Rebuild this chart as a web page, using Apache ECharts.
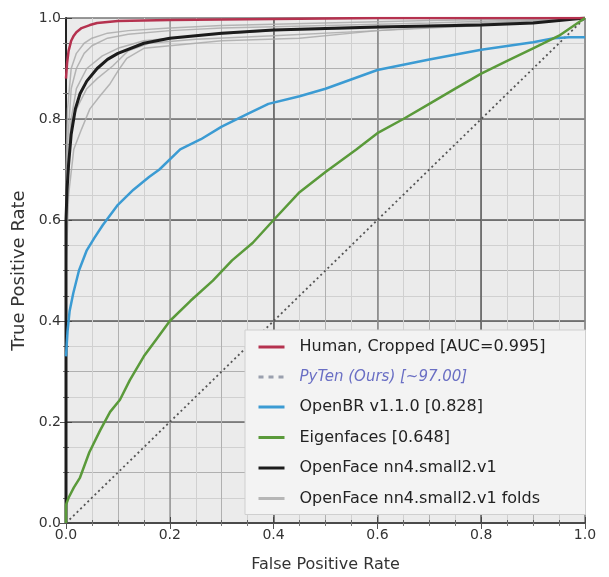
<!DOCTYPE html>
<html>
<head>
<meta charset="utf-8">
<script src="https://cdn.jsdelivr.net/npm/echarts@6/dist/echarts.min.js"></script>
<style>
  html, body { margin: 0; padding: 0; background: #fff; }
  #chart { width: 609px; height: 577px; }
</style>
</head>
<body>
<div id="chart"></div>
<script>
// ROC curves (false positive rate -> true positive rate)
var humanX = [0, 0.002, 0.005, 0.01, 0.015, 0.02, 0.03, 0.046, 0.06, 0.1, 0.2, 0.4, 0.6, 1.0]
var humanY = [0.88, 0.91, 0.935, 0.955, 0.965, 0.972, 0.98, 0.986, 0.99, 0.994, 0.996, 0.998, 1.0, 1.0]

var openbrX = [0, 0.003, 0.007, 0.014, 0.025, 0.04, 0.055, 0.071, 0.1, 0.13, 0.16, 0.18, 0.22, 0.26, 0.3, 0.35, 0.39, 0.45, 0.5, 0.6, 0.7, 0.8, 0.9, 0.94, 0.97, 1.0]
var openbrY = [0.33, 0.38, 0.42, 0.455, 0.5, 0.54, 0.565, 0.59, 0.63, 0.66, 0.685, 0.7, 0.74, 0.76, 0.785, 0.81, 0.83, 0.845, 0.86, 0.897, 0.918, 0.937, 0.952, 0.96, 0.962, 0.962]

var eigenX = [0, 0, 0.005, 0.015, 0.027, 0.045, 0.066, 0.085, 0.104, 0.123, 0.15, 0.175, 0.2, 0.24, 0.283, 0.32, 0.36, 0.4, 0.45, 0.5, 0.56, 0.6, 0.65, 0.7, 0.75, 0.8, 0.85, 0.9, 0.95, 1.0]
var eigenY = [0, 0.036, 0.05, 0.07, 0.09, 0.14, 0.184, 0.22, 0.244, 0.283, 0.33, 0.365, 0.4, 0.44, 0.48, 0.52, 0.555, 0.6, 0.655, 0.695, 0.74, 0.772, 0.8, 0.83, 0.86, 0.89, 0.915, 0.94, 0.965, 1.0]

var openfaceX = [0, 0, 0.002, 0.005, 0.01, 0.018, 0.027, 0.04, 0.06, 0.08, 0.1, 0.15, 0.2, 0.3, 0.4, 0.5, 0.6, 0.7, 0.8, 0.9, 1.0]
var openfaceY = [0, 0.6, 0.66, 0.71, 0.77, 0.82, 0.85, 0.875, 0.9, 0.918, 0.93, 0.95, 0.96, 0.97, 0.976, 0.979, 0.982, 0.984, 0.986, 0.99, 1.0]

// individual folds (grey)
var foldAX = [0, 0, 0.003, 0.01, 0.02, 0.035, 0.05, 0.08, 0.12, 0.2, 0.3, 0.5, 0.7, 1.0]
var foldAY = [0, 0.7, 0.82, 0.9, 0.93, 0.95, 0.96, 0.97, 0.975, 0.98, 0.985, 0.99, 0.995, 1.0]
var foldBX = [0, 0, 0.003, 0.01, 0.02, 0.035, 0.05, 0.08, 0.12, 0.2, 0.3, 0.5, 0.7, 1.0]
var foldBY = [0, 0.6, 0.75, 0.86, 0.9, 0.93, 0.945, 0.96, 0.968, 0.975, 0.98, 0.985, 0.99, 1.0]
var foldCX = [0, 0, 0.004, 0.012, 0.025, 0.04, 0.06, 0.09, 0.12, 0.16, 0.25, 0.4, 0.6, 0.8, 1.0]
var foldCY = [0, 0.55, 0.7, 0.8, 0.83, 0.86, 0.88, 0.905, 0.935, 0.95, 0.958, 0.965, 0.975, 0.988, 1.0]
var foldDX = [0, 0, 0.005, 0.015, 0.03, 0.046, 0.065, 0.085, 0.1, 0.117, 0.15, 0.2, 0.3, 0.45, 0.6, 0.8, 1.0]
var foldDY = [0, 0.5, 0.65, 0.74, 0.78, 0.82, 0.845, 0.87, 0.895, 0.92, 0.94, 0.945, 0.955, 0.96, 0.975, 0.985, 1.0]
var foldEX = [0, 0, 0.004, 0.01, 0.02, 0.04, 0.07, 0.1, 0.15, 0.25, 0.4, 0.6, 0.8, 1.0]
var foldEY = [0, 0.6, 0.72, 0.8, 0.86, 0.9, 0.925, 0.94, 0.955, 0.965, 0.975, 0.98, 0.99, 1.0]

var chanceX = [0, 1]
var chanceY = [0, 1]

var tickLabels = ['0.0', '0.2', '0.4', '0.6', '0.8', '1.0']

var names = {
  human: 'Human, Cropped [AUC=0.995]',
  pyten: 'PyTen (Ours) [~97.00]',
  openbr: 'OpenBR v1.1.0 [0.828]',
  eigen: 'Eigenfaces [0.648]',
  openface: 'OpenFace nn4.small2.v1',
  folds: 'OpenFace nn4.small2.v1 folds'
}

function pts(xs, ys) {
  return xs.map(function (x, i) { return [x, ys[i]] })
}

var FONT = 'DejaVu Sans'

function fmt(v) {
  var i = Math.round(v * 5)
  return tickLabels[i] || ''
}

// hidden axes only used to draw the finer grid levels
function gridAxis(interval, color, pos) {
  return {
    type: 'value', min: 0, max: 1, interval: interval, position: pos,
    axisLine: { show: false }, axisTick: { show: false }, axisLabel: { show: false },
    splitLine: { show: true, lineStyle: { color: color, width: 1 } }
  }
}

function tickAxis(pos) {
  return {
    type: 'value', min: 0, max: 1, interval: 0.2, position: pos,
    axisLine: { show: false }, axisLabel: { show: false }, splitLine: { show: false },
    axisTick: { show: true, inside: true, length: 6, lineStyle: { color: '#555' } },
    minorTick: { show: true, splitNumber: 4, length: 3, lineStyle: { color: '#777' } }
  }
}

var chart = echarts.init(document.getElementById('chart'))

function line(name, data, color, width, z, extra) {
  var s = {
    name: name, type: 'line', xAxisIndex: 2, yAxisIndex: 2,
    data: data, symbol: 'none', showSymbol: false,
    lineStyle: { color: color, width: width },
    itemStyle: { color: color },
    z: z, silent: true
  }
  return Object.assign(s, extra || {})
}

var foldStyle = { lineStyle: { color: '#aaaaaa', width: 1.5, opacity: 0.85 } }

chart.setOption({
  animation: false,
  backgroundColor: '#fff',
  textStyle: { fontFamily: FONT },
  grid: {
    left: 66, right: 24, top: 18, bottom: 54,
    show: true, backgroundColor: '#ebebeb', borderColor: '#8a8a8a', borderWidth: 1,
    outerBoundsMode: 'none'
  },
  xAxis: [
    gridAxis(0.05, '#d0d0d0', 'bottom'),
    gridAxis(0.1, '#b0b0b0', 'bottom'),
    {
      type: 'value', min: 0, max: 1, interval: 0.2, position: 'bottom',
      name: 'False Positive Rate', nameLocation: 'middle', nameGap: 34,
      nameTextStyle: { fontSize: 16, color: '#333', fontFamily: FONT },
      axisLine: { show: true, lineStyle: { color: '#333', width: 1.5 } },
      axisTick: { show: true, inside: true, length: 6, lineStyle: { color: '#444' } },
      minorTick: { show: true, splitNumber: 4, length: 3, lineStyle: { color: '#666' } },
      axisLabel: { fontSize: 14, color: '#333', margin: 5, formatter: fmt, fontFamily: FONT },
      splitLine: { show: true, lineStyle: { color: ['#888', '#9a9a9a', '#5a5a5a', '#858585', '#5a5a5a', '#888'], width: 1.5 } }
    },
    tickAxis('top')
  ],
  yAxis: [
    gridAxis(0.05, '#d0d0d0', 'left'),
    gridAxis(0.1, '#b0b0b0', 'left'),
    {
      type: 'value', min: 0, max: 1, interval: 0.2, position: 'left',
      name: 'True Positive Rate', nameLocation: 'middle', nameGap: 38,
      nameTextStyle: { fontSize: 18, color: '#333', fontFamily: FONT },
      axisLine: { show: true, lineStyle: { color: '#222', width: 2 } },
      axisTick: { show: true, inside: true, length: 6, lineStyle: { color: '#444' } },
      minorTick: { show: true, splitNumber: 4, length: 3, lineStyle: { color: '#666' } },
      axisLabel: { fontSize: 14, color: '#333', margin: 5, formatter: fmt, fontFamily: FONT },
      splitLine: { show: true, lineStyle: { color: ['#888', '#6a6a6a', '#5a5a5a', '#5a5a5a', '#707070', '#888'], width: 1.5 } }
    },
    tickAxis('right')
  ],
  legend: {
    orient: 'vertical',
    left: 245, top: 330,
    padding: [9, 40, 8, 12],
    backgroundColor: '#f3f3f3',
    borderColor: '#cfcfcf', borderWidth: 1,
    itemWidth: 26, itemHeight: 14, itemGap: 14.5,
    itemStyle: { opacity: 0 },
    lineStyle: { width: 3 },
    selectedMode: false,
    textStyle: { fontSize: 16, color: '#222', fontFamily: FONT, padding: [0, 0, 0, 10] },
    data: [
      { name: names.human },
      { name: names.pyten, textStyle: { fontStyle: 'italic', color: '#6a6fc4', fontSize: 15 } },
      { name: names.openbr },
      { name: names.eigen },
      { name: names.openface },
      { name: names.folds }
    ],
    z: 10
  },
  series: [
    line(names.folds, pts(foldAX, foldAY), '#aaaaaa', 1.5, 2, foldStyle),
    line(names.folds, pts(foldBX, foldBY), '#aaaaaa', 1.5, 2, foldStyle),
    line(names.folds, pts(foldCX, foldCY), '#aaaaaa', 1.5, 2, foldStyle),
    line(names.folds, pts(foldDX, foldDY), '#aaaaaa', 1.5, 2, foldStyle),
    line(names.folds, pts(foldEX, foldEY), '#aaaaaa', 1.5, 2, foldStyle),
    line(names.openface, pts(openfaceX, openfaceY), '#1c1c1c', 3, 3),
    line(names.human, pts(humanX, humanY), '#b5324f', 2.5, 4),
    line(names.pyten, [], '#9aa0ae', 2.5, 4, { lineStyle: { color: '#9aa0ae', width: 2.5, type: [5, 5] } }),
    line(names.openbr, pts(openbrX, openbrY), '#3b9bd3', 2.5, 4),
    line(names.eigen, pts(eigenX, eigenY), '#5a9a3a', 2.5, 4),
    line('chance', pts(chanceX, chanceY), '#555', 1.8, 3, { lineStyle: { color: '#555', width: 1.8, type: [2, 3] } })
  ]
})
</script>
</body>
</html>
